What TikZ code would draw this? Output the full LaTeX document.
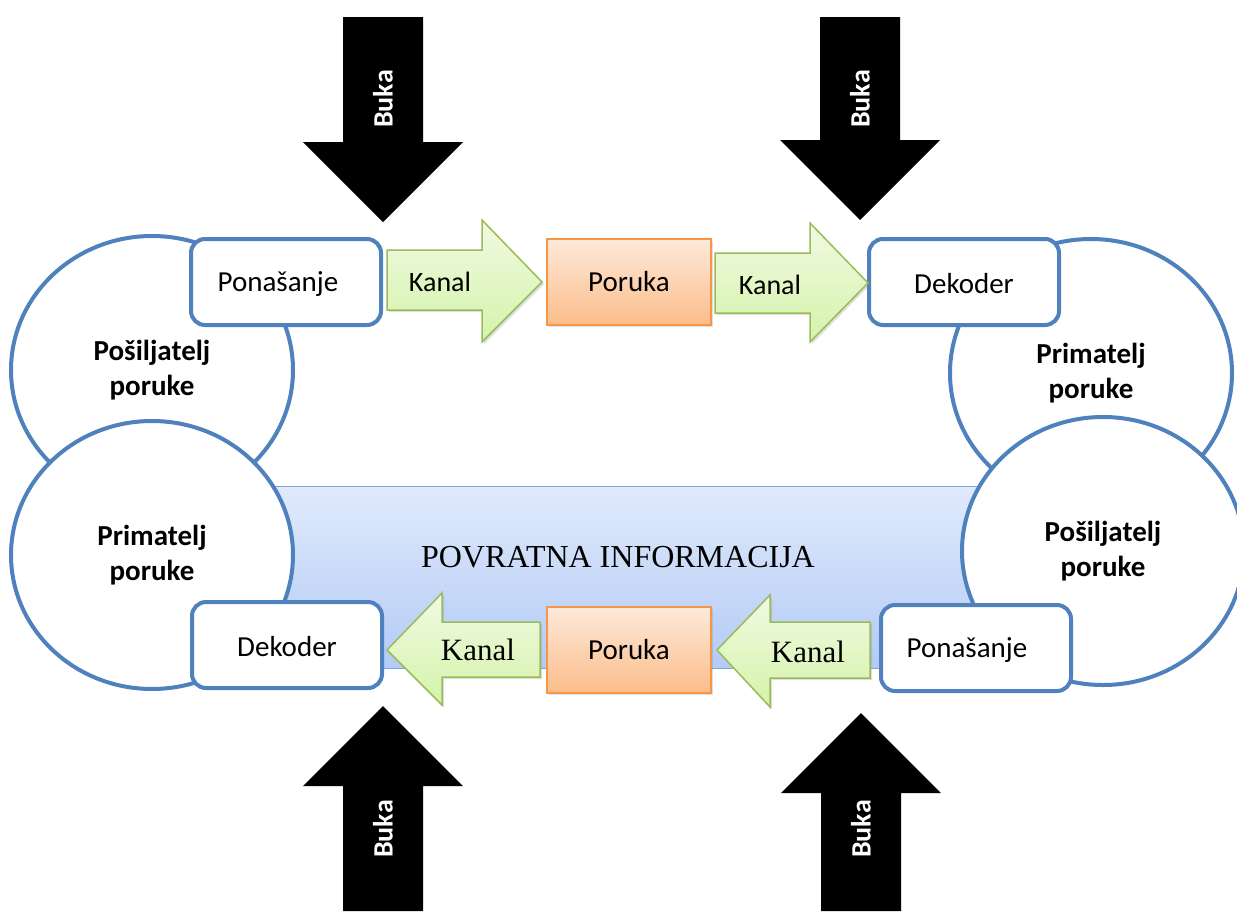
\documentclass[tikz,border=0pt]{standalone}
\usepackage{fontspec}
\setmainfont{Carlito}
\newfontfamily\timesfont{Liberation Serif}
\usetikzlibrary{shapes.geometric,shadows}

\definecolor{rimblue}{HTML}{4F81BD}
\definecolor{bandtop}{HTML}{E0EAFB}
\definecolor{bandbot}{HTML}{B3CBF6}
\definecolor{bandrim}{HTML}{7FA3DA}
\definecolor{chanrim}{HTML}{9BBB59}
\definecolor{chantop}{HTML}{F0FAE2}
\definecolor{chanbot}{HTML}{D5F3AA}
\definecolor{msgrim}{HTML}{F79646}
\definecolor{msgtop}{HTML}{FEE9DA}
\definecolor{msgbot}{HTML}{FBBD8A}

\tikzset{
  party/.style={ellipse, draw=rimblue, line width=4pt, fill=white, minimum width=282pt, minimum height=268pt, align=center, font=\fontsize{29}{35}\selectfont\bfseries},
  rolebox/.style={rectangle, rounded corners=14pt, draw=rimblue, line width=4pt, fill=white, minimum width=190pt, minimum height=86pt},
  roletext/.style={font=\fontsize{29}{35}\selectfont},
  msgbox/.style={rectangle, draw=msgrim, line width=1.5pt, top color=msgtop, bottom color=msgbot, minimum width=164pt, minimum height=86pt, font=\fontsize{29}{35}\selectfont, drop shadow={opacity=0.25,shadow xshift=2pt,shadow yshift=-2pt}},
  chanarrow/.style={draw=chanrim, line width=1.5pt, top color=chantop, bottom color=chanbot, line join=miter, drop shadow={opacity=0.25,shadow xshift=2pt,shadow yshift=-2pt}},
  noise/.style={fill=black},
  noiselabel/.style={text=white, rotate=90, font=\fontsize{28}{32}\selectfont\bfseries}
}

\begin{document}
\begin{tikzpicture}[x=1pt,y=-1pt]
  \useasboundingbox (0,0) rectangle (1237,911);

  % feedback band
  \draw[bandrim, line width=1pt, top color=bandtop, bottom color=bandbot] (270,486) rectangle (985,668);
  \node[font=\timesfont\fontsize{32}{38}\selectfont] (feedback) at (618,557) {POVRATNA INFORMACIJA};

  % sender / receiver circles
  \node[party] (sendA) at (152,370) {Pošiljatelj\\poruke};
  \node[party] (recvA) at (1091,373) {Primatelj\\poruke};
  \node[party] (recvB) at (152,555) {Primatelj\\poruke};
  \node[party] (sendB) at (1103,551) {Pošiljatelj\\poruke};

  % behaviour / decoder boxes
  \node[rolebox] (behA) at (286,282) {};
  \node[roletext] (behAtext) at (278,284) {Ponašanje};
  \node[rolebox] (decA) at (964,282) {};
  \node[roletext] (decAtext) at (964,284) {Dekoder};
  \node[rolebox] (decB) at (287,645) {};
  \node[roletext] (decBtext) at (287,647) {Dekoder};
  \node[rolebox] (behB) at (976,648) {};
  \node[roletext] (behBtext) at (967,650) {Ponašanje};

  % channels, top row
  \draw[chanarrow] (387,250) -- (482,250) -- (482,220) -- (542,282) -- (482,342) -- (482,310) -- (387,310) -- cycle;
  \node[font=\fontsize{28}{34}\selectfont] (chanA) at (440,282) {Kanal};
  \draw[chanarrow] (715,253) -- (810,253) -- (810,223) -- (868,283) -- (810,342) -- (810,313) -- (715,313) -- cycle;
  \node[font=\fontsize{28}{34}\selectfont] (chanB) at (770,285) {Kanal};

  % channels, bottom row
  \draw[chanarrow] (540,622) -- (442,622) -- (442,593) -- (387,650) -- (442,705) -- (442,677) -- (540,677) -- cycle;
  \node[font=\timesfont\fontsize{31}{36}\selectfont] (chanC) at (478,650) {Kanal};
  \draw[chanarrow] (870,622) -- (770,622) -- (770,595) -- (717,650) -- (770,707) -- (770,678) -- (870,678) -- cycle;
  \node[font=\timesfont\fontsize{31}{36}\selectfont] (chanD) at (808,652) {Kanal};

  % messages
  \node[msgbox] (msgA) at (629,282) {Poruka};
  \node[msgbox] (msgB) at (629,650) {Poruka};

  % noise
  \foreach \nx/\ny/\len/\dir/\name in {383/17/205/1/noiseA, 860/17/203/1/noiseB, 383/911/205/-1/noiseC, 861/911/198/-1/noiseD}
  {
    \fill[noise] (\nx-40,\ny) -- (\nx+40,\ny) -- (\nx+40,\ny+\len*\dir-80*\dir) -- (\nx+80,\ny+\len*\dir-80*\dir)
      -- (\nx,\ny+\len*\dir) -- (\nx-80,\ny+\len*\dir-80*\dir) -- (\nx-40,\ny+\len*\dir-80*\dir) -- cycle;
    \node[noiselabel] (\name) at (\nx,\ny+82*\dir) {Buka};
  }
\end{tikzpicture}
\end{document}
